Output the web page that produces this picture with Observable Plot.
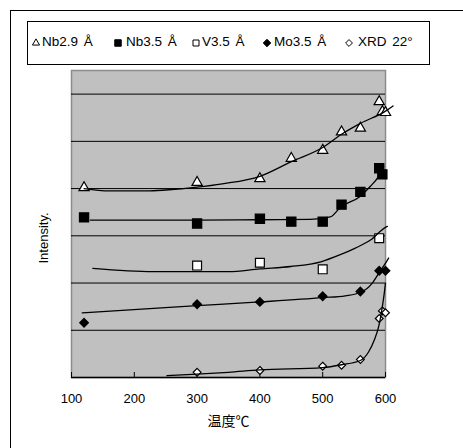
<!DOCTYPE html>
<html><head><meta charset="utf-8">
<script src="https://cdn.jsdelivr.net/npm/d3@7"></script>
<script src="https://cdn.jsdelivr.net/npm/@observablehq/plot@0.6"></script>
<style>
body{margin:0;background:#fff;}
#wrap{position:relative;width:463px;height:448px;overflow:hidden;font-family:"Liberation Sans",Arial,"Noto Sans CJK JP",sans-serif;color:#000;}
#frame{position:absolute;left:10px;top:10px;width:700px;height:700px;border-left:1px solid #000;border-top:1px solid #000;}
#legend{position:absolute;left:27px;top:21px;width:401px;height:42px;border:1px solid #000;background:#fff;z-index:2;}
.item{position:absolute;top:0;height:42px;font-size:13.5px;white-space:pre;word-spacing:2px;}
.item svg{position:absolute;top:16px;}
.item span{position:absolute;top:12px;}
#chart{position:absolute;left:0;top:0;z-index:1;}
</style></head>
<body>
<div id="wrap"><div id="frame"></div><div id="legend"></div><div id="chart"></div></div>
<script>
// ---- data ----
const seriesNames = ["Nb2.9 Å", "Nb3.5 Å", "V3.5 Å", "Mo3.5 Å", "XRD 22°"];
const xTicks = [100, 200, 300, 400, 500, 600];
const yGrid = [1, 2, 3, 4, 5, 6];
const xLabel = "温度℃";
const yLabel = "Intensity.";

// measured points (temperature °C, intensity in grid units)
const nb29T = [120, 300, 400, 450, 500, 530, 560, 590, 595, 600];
const nb29I = [4.02, 4.13, 4.21, 4.64, 4.81, 5.20, 5.28, 5.84, 5.63, 5.61];
const nb35T = [120, 300, 400, 450, 500, 530, 560, 590, 595];
const nb35I = [3.39, 3.26, 3.36, 3.30, 3.30, 3.66, 3.93, 4.43, 4.30];
const v35T = [300, 400, 500, 590];
const v35I = [2.37, 2.43, 2.29, 2.95];
const mo35T = [120, 300, 400, 500, 560, 590, 600];
const mo35I = [1.16, 1.55, 1.60, 1.72, 1.82, 2.26, 2.26];
const xrdT = [300, 400, 500, 530, 560, 590, 595, 600];
const xrdI = [0.11, 0.15, 0.24, 0.26, 0.38, 1.25, 1.41, 1.37];

// trend lines
const nb29TrendT = [120, 160, 220, 250, 300, 340, 400, 450, 500, 530, 560, 600, 612];
const nb29TrendI = [4.0, 3.95, 3.95, 3.97, 4.03, 4.1, 4.26, 4.57, 4.87, 5.15, 5.38, 5.64, 5.75];
const nb35TrendT = [130, 300, 400, 480, 512, 528, 560, 576, 589, 597];
const nb35TrendI = [3.33, 3.33, 3.34, 3.35, 3.40, 3.6, 3.84, 4.05, 4.26, 4.47];
const v35TrendT = [134, 230, 300, 350, 400, 449, 497, 528, 552, 576, 600, 603];
const v35TrendI = [2.31, 2.24, 2.24, 2.24, 2.30, 2.35, 2.45, 2.60, 2.74, 2.91, 3.18, 3.2];
const mo35TrendT = [117, 300, 400, 500, 536, 560, 579, 589, 600, 605];
const mo35TrendI = [1.37, 1.52, 1.60, 1.69, 1.73, 1.80, 2.0, 2.2, 2.42, 2.53];
const xrdTrendT = [252, 300, 350, 400, 500, 530, 560, 573, 582, 589, 595, 598, 600];
const xrdTrendI = [0.04, 0.07, 0.11, 0.16, 0.21, 0.27, 0.36, 0.54, 0.79, 1.07, 1.5, 1.78, 2.0];

const tbl = (T, I) => T.map((t, i) => ({t, v: I[i]}));

const styles = [
  {symbol: "triangle", r: 3.8, fill: "#fff", legendSym: d3.symbolTriangle, lsize: 22},
  {symbol: "square", r: 5.2, fill: "#000", legendSym: d3.symbolSquare, lsize: 42},
  {symbol: "square", r: 5.0, fill: "#fff", legendSym: d3.symbolSquare, lsize: 36},
  {symbol: "diamond2", r: 3.9, fill: "#000", legendSym: d3.symbolDiamond2, lsize: 36},
  {symbol: "diamond2", r: 3.5, fill: "#fff", legendSym: d3.symbolDiamond2, lsize: 30}
];
const pts = [tbl(nb29T, nb29I), tbl(nb35T, nb35I), tbl(v35T, v35I), tbl(mo35T, mo35I), tbl(xrdT, xrdI)];
const trends = [tbl(nb29TrendT, nb29TrendI), tbl(nb35TrendT, nb35TrendI), tbl(v35TrendT, v35TrendI), tbl(mo35TrendT, mo35TrendI), tbl(xrdTrendT, xrdTrendI)];

const font = '"Liberation Sans", Arial, "Noto Sans CJK JP", sans-serif';

const chart = Plot.plot({
  width: 463, height: 448,
  marginLeft: 71, marginRight: 78, marginTop: 70, marginBottom: 71,
  x: {domain: [100, 600], label: null},
  y: {domain: [0, 6.5], axis: null},
  style: {fontFamily: font, fontSize: "13px", background: "transparent", color: "#000", overflow: "visible"},
  marks: [
    Plot.frame({fill: "#c0c0c0", stroke: "#8c8c8c", strokeWidth: 1.5}),
    Plot.ruleY(yGrid, {stroke: "#000", strokeWidth: 1}),
    Plot.ruleY([0], {stroke: "#000", strokeWidth: 1.5}),
    Plot.axisX({ticks: xTicks, tickSize: -5, tickFormat: () => "", stroke: "#000", label: null}),
    Plot.axisX({ticks: xTicks, tickSize: 0, tickPadding: 16, tickFormat: d => String(d), label: null, fill: "#000"}),
    ...pts.map((d, i) => Plot.dot(d, {x: "t", y: "v", symbol: () => styles[i].symbol, r: styles[i].r, fill: styles[i].fill, stroke: "#000", strokeWidth: 1.2})),
    ...trends.map(d => Plot.line(d, {x: "t", y: "v", curve: "monotone-x", stroke: "#000", strokeWidth: 1.3})),
    Plot.text([yLabel], {frameAnchor: "left", textAnchor: "middle", rotate: -90, dx: -28, dy: 14, fontSize: 13, fill: "#000"}),
    Plot.text([xLabel], {frameAnchor: "bottom", dy: 48, fontSize: 14, fill: "#000"})
  ]
});
document.getElementById("chart").appendChild(chart);

// legend
const legendX = [36, 118, 196, 267, 349];
const legendTextX = [42, 126, 202, 274, 358];
const legend = d3.select("#legend");
seriesNames.forEach((name, i) => {
  const it = legend.append("div").attr("class", "item").style("left", "0px");
  const svg = it.append("svg").attr("width", 10).attr("height", 10)
    .style("left", (legendX[i] - 27 - 1 - 5) + "px");
  svg.append("path")
    .attr("transform", "translate(5,5)")
    .attr("d", d3.symbol(styles[i].legendSym, styles[i].lsize)())
    .attr("fill", styles[i].fill).attr("stroke", "#000").attr("stroke-width", 1);
  it.append("span").style("left", (legendTextX[i] - 28) + "px").text(name);
});
</script>
</body></html>
